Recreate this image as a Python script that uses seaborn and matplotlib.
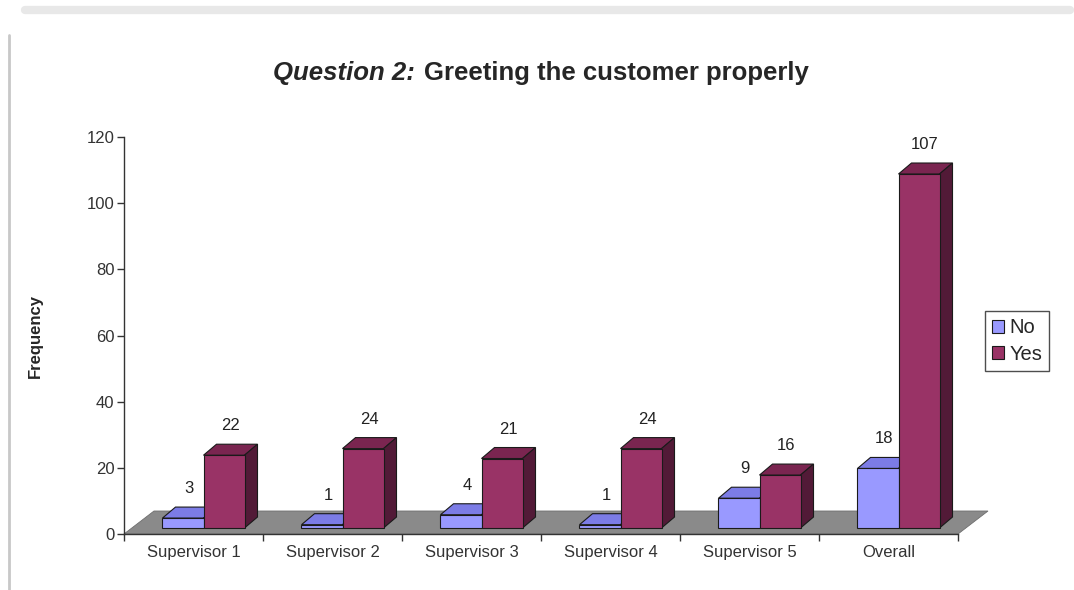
import matplotlib
matplotlib.use("Agg")
import matplotlib.pyplot as plt
from matplotlib.patches import Polygon, Patch
from matplotlib.transforms import ScaledTranslation, IdentityTransform
from matplotlib.lines import Line2D
import seaborn as sns
import pandas as pd

# Survey answers per supervisor
groups = ["Supervisor 1", "Supervisor 2", "Supervisor 3", "Supervisor 4", "Supervisor 5", "Overall"]
no_counts = [3, 1, 4, 1, 9, 18]
yes_counts = [22, 24, 21, 24, 16, 107]
answers = ["No", "Yes"]
y_ticks = [0, 20, 40, 60, 80, 100, 120]

df = pd.DataFrame({
    "group": groups * 2,
    "answer": ["No"] * len(groups) + ["Yes"] * len(groups),
    "count": no_counts + yes_counts,
})

sns.set_theme(style="white")
plt.rcParams["font.family"] = ["Liberation Sans", "DejaVu Sans"]

front = {"No": "#9999FF", "Yes": "#993366"}
top_c = {"No": "#7C7CE6", "Yes": "#7A2550"}
side_c = {"No": "#5F5FB8", "Yes": "#521A37"}
edge = "#1A1A1A"
text_c = "#333333"

DPI = 100
fig = plt.figure(figsize=(10.74, 5.90), dpi=DPI)
ax = fig.add_axes([124 / 1074, 1 - 534 / 590, 834 / 1074, 397 / 590])

sns.barplot(data=df, x="group", y="count", hue="answer", order=groups, hue_order=answers,
            palette=front, width=0.59, saturation=1, edgecolor=edge, linewidth=0.8,
            ax=ax, zorder=3)

ax.set_xlim(-0.5, len(groups) - 0.5)
ax.set_ylim(0, 120)

# depth of the pseudo-3D extrusion, pixels
DX, DY = 13, 11
SHIFT_X, SHIFT_Y = 10, 6
shift = ScaledTranslation(SHIFT_X / DPI, SHIFT_Y / DPI, fig.dpi_scale_trans)

# grey floor under the bars
FX, FY = 30, 23
x_left = ax.transData.transform((-0.5, 0))
x_right = ax.transData.transform((len(groups) - 0.5, 0))
floor = Polygon([(x_left[0], x_left[1]), (x_right[0], x_right[1]),
                 (x_right[0] + FX, x_right[1] + FY), (x_left[0] + FX, x_left[1] + FY)],
                closed=True, transform=IdentityTransform(), facecolor="#8A8A8A",
                edgecolor="#6E6E6E", linewidth=0.6, zorder=1, clip_on=False)
ax.add_artist(floor)

for container, ans, vals in zip(ax.containers, answers, [no_counts, yes_counts]):
    for patch, v in zip(container, vals):
        patch.set_transform(ax.transData + shift)
        patch.set_clip_on(False)
        (x0, y0), (x1, y1) = (ax.transData + shift).transform(
            [(patch.get_x(), patch.get_y()),
             (patch.get_x() + patch.get_width(), patch.get_y() + patch.get_height())])
        top = Polygon([(x0, y1), (x1, y1), (x1 + DX, y1 + DY), (x0 + DX, y1 + DY)], closed=True,
                      transform=IdentityTransform(), facecolor=top_c[ans], edgecolor=edge,
                      linewidth=0.8, zorder=2.5, clip_on=False)
        side = Polygon([(x1, y0), (x1, y1), (x1 + DX, y1 + DY), (x1 + DX, y0 + DY)], closed=True,
                       transform=IdentityTransform(), facecolor=side_c[ans], edgecolor=edge,
                       linewidth=0.8, zorder=2.5, clip_on=False)
        ax.add_artist(top)
        ax.add_artist(side)
        ax.annotate(str(v), (patch.get_x() + patch.get_width() / 2, v),
                    xytext=((SHIFT_X + 6) * 0.72, 28 * 0.72), textcoords="offset points",
                    ha="center", va="bottom", fontsize=12, color="#222222", zorder=5)

# axes styling
for s in ["top", "right"]:
    ax.spines[s].set_visible(False)
for s in ["left", "bottom"]:
    ax.spines[s].set_color(text_c)
    ax.spines[s].set_linewidth(1.0)
    ax.spines[s].set_zorder(4)

ax.set_yticks(y_ticks)
ax.set_yticklabels([str(t) for t in y_ticks], fontsize=12, color=text_c)
ax.tick_params(axis="y", direction="out", length=5, width=1, color=text_c, left=True, pad=2)

ax.set_xticks([i - 0.5 for i in range(len(groups) + 1)])
ax.set_xticklabels([])
ax.set_xticks(range(len(groups)), minor=True)
ax.set_xticklabels(groups, minor=True, fontsize=12, color=text_c)
ax.tick_params(axis="x", which="major", direction="out", length=5, width=1, color=text_c, bottom=True)
ax.tick_params(axis="x", which="minor", length=0, pad=8)

ax.set_xlabel("")
ax.set_ylabel("Frequency", fontsize=12, fontweight="bold", labelpad=31)

# legend
handles = [Patch(facecolor=front[a], edgecolor=edge, linewidth=0.8, label=a) for a in answers]
ax.get_legend().remove()
fig.legend(handles=handles, loc="center left", bbox_to_anchor=(985 / 1074, 1 - 341 / 590),
           frameon=True, fancybox=False, edgecolor="#222222", fontsize=14.5,
           handlelength=0.6, handleheight=0.6, handletextpad=0.25, borderpad=0.35,
           labelspacing=0.35, borderaxespad=0)

# title with italic lead-in
renderer = fig.canvas.get_renderer()
t_y = 1 - 73 / 590
t1 = fig.text(0, t_y, "Question 2:", fontsize=18.5, fontweight="bold", fontstyle="italic",
              va="center", ha="left")
t2 = fig.text(0, t_y, "Greeting the customer properly", fontsize=18.5, fontweight="bold",
              va="center", ha="left")
w1 = t1.get_window_extent(renderer).width
w2 = t2.get_window_extent(renderer).width
gap = 10
start = 541 - (w1 + gap + w2) / 2
t1.set_x(start / 1074)
t2.set_x((start + w1 + gap) / 1074)

# page frame lines
fig.add_artist(Line2D([25 / 1074, 1070 / 1074], [1 - 10 / 590, 1 - 10 / 590],
                      transform=fig.transFigure, color="#E8E8E8", linewidth=6, solid_capstyle="round"))
fig.add_artist(Line2D([9 / 1074, 9 / 1074], [1 - 35 / 590, 0], transform=fig.transFigure,
                      color="#C8C8C8", linewidth=2))

fig.savefig("out.png", dpi=DPI, facecolor="white")
